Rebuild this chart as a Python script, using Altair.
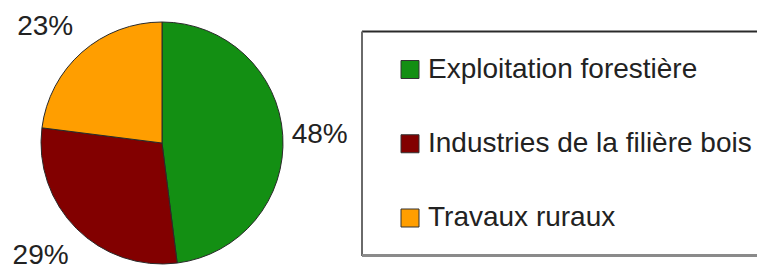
import altair as alt
import pandas as pd

categories = ["Exploitation forestière", "Industries de la filière bois", "Travaux ruraux"]
shares = [48, 29, 23]
colors = ["#138f13", "#820000", "#ff9e00"]

df = pd.DataFrame({"cat": categories, "share": shares, "idx": list(range(len(categories)))})

W, H = 749, 258
cx, cy = 154, 135
R = 121
FONT = "Liberation Sans"

base = alt.Chart(df)
color_enc = alt.Color("cat:N", scale=alt.Scale(domain=categories, range=colors), legend=None)
theta_scale = alt.Scale(domain=[0, 100])

pie = base.mark_arc(outerRadius=R, stroke="#2a2a2a", strokeWidth=1).encode(
    theta=alt.Theta("share:Q", stack=True, scale=theta_scale),
    color=color_enc,
    order=alt.Order("idx:Q"),
    x=alt.value(cx),
    y=alt.value(cy),
)

stacked = base.transform_stack(
    stack="share", as_=["s0", "s1"], groupby=[], sort=[alt.SortField("idx", order="ascending")]
).transform_calculate(mid="(datum.s0 + datum.s1) / 2", label="datum.share + '%'")

# per-label placement (radius, dx, dy) as mark styling
placements = {
    categories[0]: (158, 0, 2),
    categories[1]: (166, -4, -4),
    categories[2]: (160, -11, 4),
}
label_layers = []
for cat, (rad, ddx, ddy) in placements.items():
    label_layers.append(
        stacked.transform_filter(alt.datum.cat == cat).mark_text(
            radius=rad, dx=ddx, dy=ddy, font=FONT, fontSize=28, color="#222222"
        ).encode(
            theta=alt.Theta("mid:Q", scale=theta_scale),
            text="label:N",
            x=alt.value(cx),
            y=alt.value(cy),
        )
    )

one = alt.Chart(pd.DataFrame({"k": [0]}))
box_top = one.mark_rule(color="#2a2a2a", strokeWidth=2).encode(
    x=alt.value(354), x2=alt.value(900), y=alt.value(23.5))
box_left = one.mark_rule(color="#6a6a6a", strokeWidth=2).encode(
    x=alt.value(354), y=alt.value(23.5), y2=alt.value(248))
box_bottom = one.mark_rule(color="#8a8a8a", strokeWidth=3).encode(
    x=alt.value(354), x2=alt.value(900), y=alt.value(247.5))

yenc = alt.Y("cat:N", scale=alt.Scale(domain=categories, range=[61.5, 210], padding=0), axis=None)

leg_sym = base.mark_square(size=324, opacity=1, stroke="#333333", strokeWidth=1).encode(
    x=alt.value(402), y=yenc, color=color_enc
)

leg_txt = base.mark_text(
    align="left", baseline="middle", font=FONT, fontSize=28, color="#222222"
).encode(x=alt.value(420), y=yenc, text="cat:N")

chart = alt.layer(box_top, box_left, box_bottom, pie, *label_layers, leg_sym, leg_txt).properties(
    width=W, height=H, autosize=alt.AutoSizeParams(type="none"), padding=0
).configure_view(stroke=None)

chart.save("out.html", embed_options={"renderer": "svg", "actions": False})
